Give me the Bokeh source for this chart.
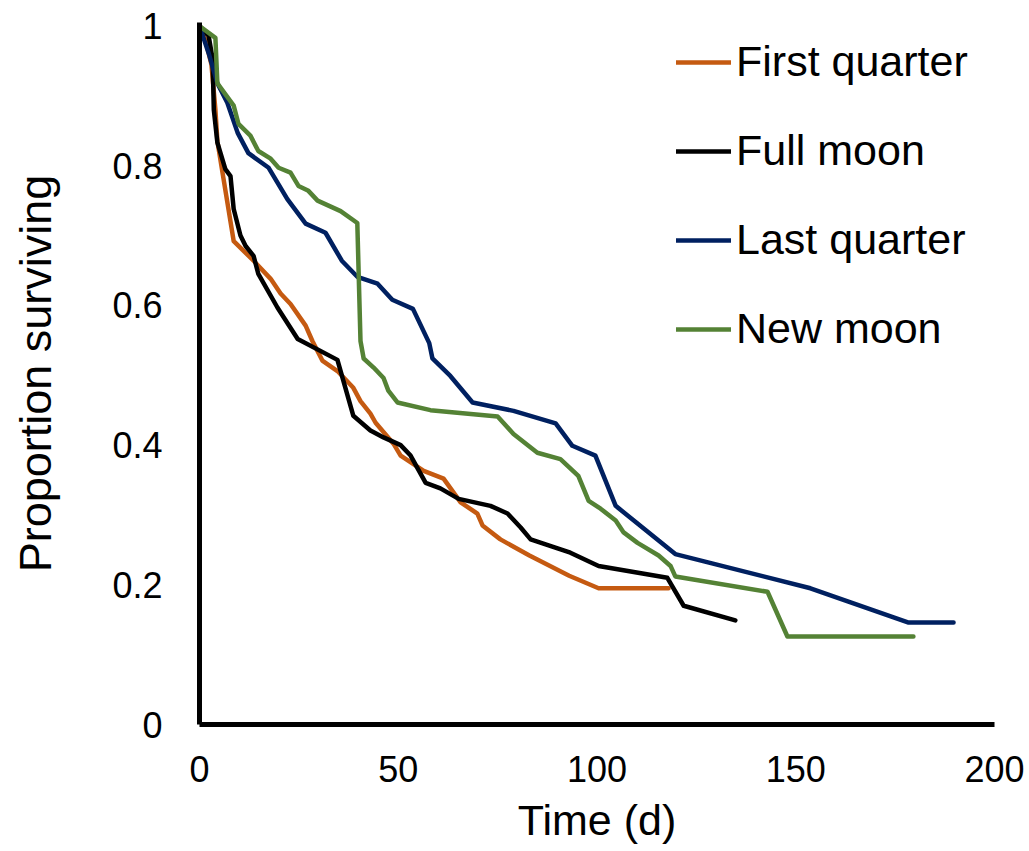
from bokeh.plotting import figure
from bokeh.models import Range1d, FixedTicker, Legend, LegendItem
from bokeh.embed import file_html
from bokeh.resources import INLINE

# ---- data ----
fq_t = [0, 1.5, 3, 4, 4.5, 8.6, 13.6, 17.9, 20.4, 22.9, 26.7, 28.4, 30.9, 34.7, 38.7, 40.5, 43, 44.3,
        48.8, 50.6, 56.4, 61.4, 65.7, 69.9, 71.2, 75.7, 83, 93, 100.4, 118]
fq_s = [1, 0.98, 0.945, 0.88, 0.835, 0.692, 0.664, 0.638, 0.617, 0.602, 0.571, 0.549, 0.521, 0.506, 0.482,
        0.463, 0.445, 0.432, 0.402, 0.385, 0.363, 0.352, 0.318, 0.302, 0.285, 0.265, 0.242, 0.213, 0.195, 0.195]

fm_t = [0, 2.3, 3.3, 3.6, 4.5, 6.5, 7.8, 8.6, 10.3, 11.6, 13.6, 14.8, 19.6, 24.7, 34.7, 36.2, 38.7, 43,
        46.3, 50.6, 53.1, 56.9, 60.6, 65.2, 73.2, 77.5, 80.8, 83.3, 93.3, 100.4, 117.7, 121.8, 134.8]
fm_s = [1, 0.986, 0.953, 0.88, 0.833, 0.795, 0.785, 0.738, 0.7, 0.685, 0.671, 0.645, 0.597, 0.552, 0.522,
        0.492, 0.442, 0.421, 0.411, 0.4, 0.385, 0.346, 0.338, 0.323, 0.313, 0.302, 0.282, 0.265, 0.246,
        0.227, 0.21, 0.17, 0.149]

lq_t = [0, 2.3, 4.5, 7, 9.6, 12.3, 17.4, 22.1, 26.7, 31.7, 35.8, 39.7, 44.8, 48.5, 53.7, 57.8, 58.6,
        63.1, 68.7, 79, 89.6, 93.8, 99.6, 104.7, 119.7, 153.7, 178.4, 189.7]
lq_s = [1, 0.961, 0.918, 0.89, 0.847, 0.818, 0.797, 0.752, 0.717, 0.704, 0.664, 0.641, 0.631, 0.608,
        0.595, 0.546, 0.524, 0.499, 0.461, 0.449, 0.431, 0.399, 0.385, 0.313, 0.244, 0.195, 0.146, 0.146]

nm_t = [0, 4, 4.5, 8.6, 9.8, 12.8, 14.8, 17.9, 19.9, 22.9, 24.9, 27.4, 29.7, 35.5, 39.7, 40.5, 41.3,
        43.8, 46.3, 47.5, 49.8, 58.1, 75, 79, 85, 90.8, 95.3, 97.9, 100.9, 104.7, 106.7, 110.2, 115.5,
        118.5, 119.7, 142.9, 147.9, 179.6]
nm_s = [1, 0.983, 0.918, 0.886, 0.86, 0.843, 0.821, 0.81, 0.797, 0.79, 0.771, 0.764, 0.75, 0.735, 0.718,
        0.549, 0.524, 0.511, 0.496, 0.478, 0.461, 0.45, 0.441, 0.416, 0.389, 0.38, 0.356, 0.32, 0.309,
        0.292, 0.275, 0.26, 0.242, 0.227, 0.212, 0.19, 0.126, 0.126]

series_names = ["First quarter", "Full moon", "Last quarter", "New moon"]
x_ticks = [0, 50, 100, 150, 200]
y_ticks = [0, 0.2, 0.4, 0.6, 0.8, 1]
y_tick_labels = ["0", "0.2", "0.4", "0.6", "0.8", "1"]

FONT = "Liberation Sans"
colors = ["#C55A11", "#000000", "#002060", "#548235"]

p = figure(width=1029, height=851, output_backend="svg", toolbar_location=None,
           x_range=Range1d(0, 200), y_range=Range1d(0, 1.005),
           min_border_left=199, min_border_right=35, min_border_top=22, min_border_bottom=127)
p.outline_line_color = None
p.grid.visible = False
p.background_fill_color = "white"

for ax in (p.xaxis[0], p.yaxis[0]):
    ax.axis_line_width = 5
    ax.axis_line_color = "black"
    ax.major_tick_line_color = None
    ax.minor_tick_line_color = None
    ax.major_label_text_font = FONT
    ax.major_label_text_font_size = "36px"
    ax.major_label_text_color = "black"
    ax.axis_label_text_font = FONT
    ax.axis_label_text_font_style = "normal"
    ax.axis_label_text_color = "black"

p.xaxis.ticker = FixedTicker(ticks=x_ticks)
p.yaxis.ticker = FixedTicker(ticks=y_ticks)
p.yaxis.major_label_overrides = {t: l for t, l in zip(y_ticks, y_tick_labels)}
p.xaxis.major_label_overrides = {t: str(t) for t in x_ticks}
p.xaxis.axis_label = "Time (d)"
p.yaxis.axis_label = "Proportion surviving"
p.xaxis.axis_label_text_font_size = "43px"
p.yaxis.axis_label_text_font_size = "45px"
p.xaxis.major_label_standoff = 25
p.yaxis.major_label_standoff = 31
p.xaxis.axis_label_standoff = 11
p.yaxis.axis_label_standoff = 48

data = [(fq_t, fq_s), (fm_t, fm_s), (lq_t, lq_s), (nm_t, nm_s)]
items = []
for (t, s), c, name in zip(data, colors, series_names):
    r = p.line(t, s, line_color=c, line_width=4.5, line_join="round", line_cap="round")
    items.append(LegendItem(label=name, renderers=[r]))

legend = Legend(items=items, location=(477, 371), orientation="vertical",
                label_text_font=FONT, label_text_font_size="43px", label_text_color="black",
                glyph_width=55, glyph_height=40, label_height=40, label_standoff=5,
                spacing=40, padding=0, margin=0, border_line_color=None,
                background_fill_alpha=0)
p.add_layout(legend, "center")

open("out.html", "w").write(file_html(p, INLINE))
